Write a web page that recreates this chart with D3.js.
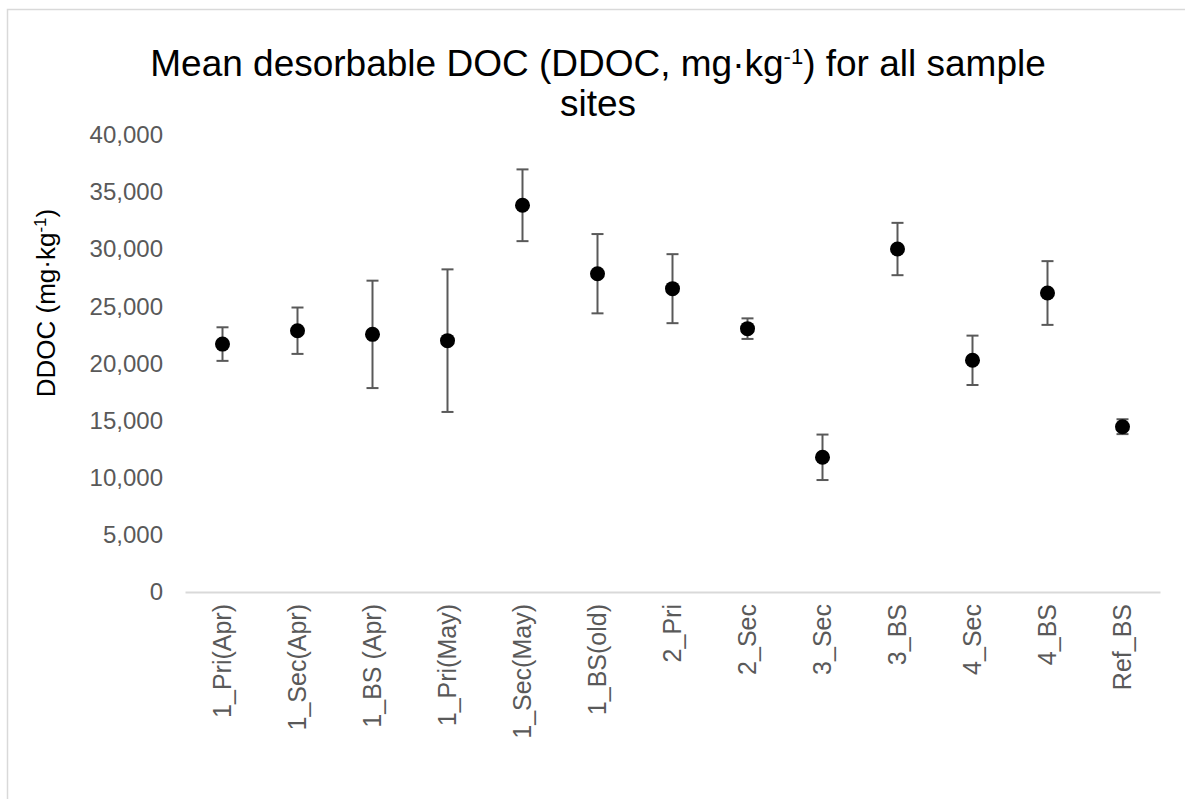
<!DOCTYPE html>
<html>
<head>
<meta charset="utf-8">
<script src="https://cdn.jsdelivr.net/npm/d3@7"></script>
<style>
  body { margin: 0; background: #fff; }
  text { font-family: "Liberation Sans", Arial, sans-serif; }
</style>
</head>
<body>
<div id="container"></div>
<script>
const categories = ["1_Pri(Apr)", "1_Sec(Apr)", "1_BS (Apr)", "1_Pri(May)", "1_Sec(May)", "1_BS(old)",
  "2_Pri", "2_Sec", "3_Sec", "3_BS", "4_Sec", "4_BS", "Ref_BS"];
const means = [21700, 22870, 22550, 22000, 33850, 27860, 26550, 23050, 11790, 30020, 20280, 26170, 14470];
const errors = [1470, 2030, 4700, 6240, 3140, 3470, 3020, 900, 1990, 2290, 2160, 2790, 650];
const yTicks = [0, 5000, 10000, 15000, 20000, 25000, 30000, 35000, 40000];

const data = categories.map((c, i) => ({name: c, value: means[i], err: errors[i]}));

const W = 1185, H = 799;
const svg = d3.select("#container")
  .append("svg")
  .attr("width", W)
  .attr("height", H);

// chart frame (runs off the right and bottom edge)
svg.append("rect")
  .attr("x", 7.5)
  .attr("y", 9.5)
  .attr("width", W + 20)
  .attr("height", H + 20)
  .attr("fill", "#fff")
  .attr("stroke", "#d9d9d9")
  .attr("stroke-width", 1.5);

const x = d3.scaleBand()
  .domain(categories)
  .range([185, 1160]);

const y = d3.scaleLinear()
  .domain([0, 40000])
  .range([592, 135]);

// title
const title = svg.append("text")
  .attr("text-anchor", "middle")
  .attr("fill", "#000")
  .style("font-size", "37px");
title.append("tspan").attr("x", 598).attr("y", 76).text("Mean desorbable DOC (DDOC, mg·kg");
title.append("tspan").attr("baseline-shift", "super").style("font-size", "22px").text("-1");
title.append("tspan").text(") for all sample");
title.append("tspan").attr("x", 598).attr("y", 116).text("sites");

// y axis
const yAxis = svg.append("g")
  .attr("transform", "translate(185,0)")
  .call(d3.axisLeft(y).tickValues(yTicks).tickFormat(d3.format(",")).tickSize(0).tickPadding(22));
yAxis.select(".domain").remove();
yAxis.selectAll("text")
  .attr("fill", "#595959")
  .style("font-size", "24px")
  .style("font-family", "Liberation Sans, Arial, sans-serif");

// x axis
const xAxis = svg.append("g")
  .attr("transform", `translate(0,${y(0)})`)
  .call(d3.axisBottom(x).tickSize(0).tickSizeOuter(0));
xAxis.select(".domain").attr("stroke", "#d9d9d9").attr("stroke-width", 2);
xAxis.selectAll("text")
  .attr("fill", "#595959")
  .style("font-size", "25px")
  .style("font-family", "Liberation Sans, Arial, sans-serif")
  .attr("text-anchor", "end")
  .attr("transform", "rotate(-90)")
  .attr("x", -12)
  .attr("y", 0)
  .attr("dy", "0.35em");

// y axis title
const yTitle = svg.append("text")
  .attr("transform", "translate(55,303) rotate(-90)")
  .attr("text-anchor", "middle")
  .attr("fill", "#000")
  .style("font-size", "26px");
yTitle.append("tspan").text("DDOC (mg·kg");
yTitle.append("tspan").attr("baseline-shift", "super").style("font-size", "17px").text("-1");
yTitle.append("tspan").text(")");

// error bars
const cx = d => x(d.name) + x.bandwidth() / 2;
const bars = svg.append("g")
  .attr("stroke", "#595959")
  .attr("stroke-width", 2);

bars.selectAll(".stem")
  .data(data)
  .join("line")
  .attr("x1", cx).attr("x2", cx)
  .attr("y1", d => y(d.value + d.err))
  .attr("y2", d => y(d.value - d.err));

bars.selectAll(".capTop")
  .data(data)
  .join("line")
  .attr("x1", d => cx(d) - 6).attr("x2", d => cx(d) + 6)
  .attr("y1", d => y(d.value + d.err))
  .attr("y2", d => y(d.value + d.err));

bars.selectAll(".capBottom")
  .data(data)
  .join("line")
  .attr("x1", d => cx(d) - 6).attr("x2", d => cx(d) + 6)
  .attr("y1", d => y(d.value - d.err))
  .attr("y2", d => y(d.value - d.err));

// points
svg.append("g")
  .selectAll("circle")
  .data(data)
  .join("circle")
  .attr("cx", cx)
  .attr("cy", d => y(d.value))
  .attr("r", 7.5)
  .attr("fill", "#000");
</script>
</body>
</html>
